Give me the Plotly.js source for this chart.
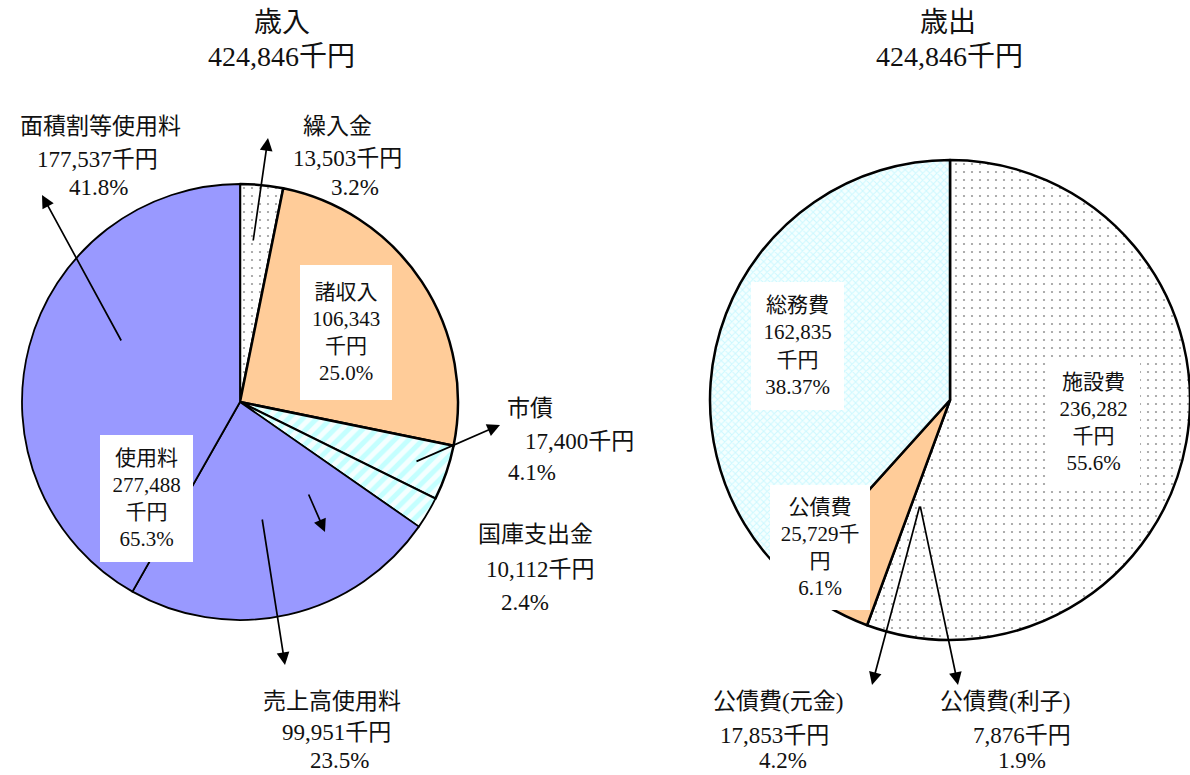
<!DOCTYPE html>
<html>
<head>
<meta charset="utf-8">
<script src="https://cdn.plot.ly/plotly-3.0.1.min.js"></script>
<style>html,body{margin:0;padding:0;background:#fff;}#chart{width:1190px;height:775px;}</style>
</head>
<body>
<div id="chart"></div>
<script>
// ---- data ----
const revLabels = ['繰入金', '諸収入', '市債', '国庫支出金', '売上高使用料', '面積割等使用料'];
const revValues = [13503, 106343, 17400, 10112, 99951, 177537];
const revPct = ['3.2', '25.0', '4.1', '2.4', '23.5', '41.8'];
const revTotal = 424846;
const usageLabel = '使用料';
const usageValue = 277488;
const usagePct = '65.3';

const expLabels = ['施設費', '公債費', '総務費'];
const expValues = [236282, 25729, 162835];
const expPct = ['55.6', '6.1', '38.37'];
const expTotal = 424846;
const debtLabels = ['公債費(元金)', '公債費(利子)'];
const debtValues = [17853, 7876];
const debtPct = ['4.2', '1.9'];

const unit = '千円';
const fmt = v => v.toLocaleString('en-US');

// ---- layout helpers (pixel -> paper) ----
const W = 1190, H = 775;
const px = x => x / W;
const py = y => 1 - y / H;
const FONT = 'Liberation Serif, Noto Sans CJK JP, serif';

const ann = [];
function line(text, x, y, size) {
  ann.push({text: text, x: px(x), y: py(y), xref: 'paper', yref: 'paper',
    xanchor: 'center', yanchor: 'middle', showarrow: false,
    font: {family: FONT, size: size || 23, color: '#111'}});
}
function lines(texts, pos, size) { texts.forEach((t, i) => line(t, pos[i][0], pos[i][1], size)); }
function box(text, cx, cy, w, h) {
  ann.push({text: text, x: px(cx), y: py(cy), xref: 'paper', yref: 'paper',
    xanchor: 'center', yanchor: 'middle', showarrow: false, bgcolor: '#ffffff',
    width: w, height: h, borderpad: 0, borderwidth: 0,
    font: {family: FONT, size: 21, color: '#111'}});
}
function arrow(tx, ty, hx, hy) {
  ann.push({text: '', x: px(hx), y: py(hy), xref: 'paper', yref: 'paper',
    ax: tx - hx, ay: ty - hy, axref: 'pixel', ayref: 'pixel',
    showarrow: true, arrowhead: 2, arrowsize: 1.5, arrowwidth: 1.7,
    arrowcolor: '#000', standoff: 0, startstandoff: 0});
}

// titles
lines(['歳入', fmt(revTotal) + unit], [[282, 22], [281, 57]], 28);
lines(['歳出', fmt(expTotal) + unit], [[948, 22], [949, 57]], 28);

// left outer labels
const lbl = i => [revLabels[i], fmt(revValues[i]) + unit, revPct[i] + '%'];
lines(lbl(5), [[100, 126], [97, 159], [98, 188]]);
lines(lbl(0), [[337, 126], [347, 158], [355, 188]]);
lines(lbl(2), [[530, 408], [579, 441], [532, 472]]);
lines(lbl(3), [[535, 534], [540, 569], [525, 602]]);
lines(lbl(4), [[332, 701], [336, 732], [339, 760]]);
// right outer labels
lines([debtLabels[0], fmt(debtValues[0]) + unit, debtPct[0] + '%'], [[778, 701], [774, 735], [783, 760]]);
lines([debtLabels[1], fmt(debtValues[1]) + unit, debtPct[1] + '%'], [[1005, 701], [1022, 735], [1022, 760]]);

// boxed labels
box([revLabels[1], fmt(revValues[1]), unit, revPct[1] + '%'].join('<br>'), 346, 332, 92, 135);
box([usageLabel, fmt(usageValue), unit, usagePct + '%'].join('<br>'), 146, 498, 93, 127);
box([expLabels[2], fmt(expValues[2]), unit, expPct[2] + '%'].join('<br>'), 798, 346, 93, 128);
box([expLabels[0], fmt(expValues[0]), unit, expPct[0] + '%'].join('<br>'), 1093, 422, 93, 125);
box([expLabels[1], fmt(expValues[1]) + unit.charAt(0), unit.charAt(1), expPct[1] + '%'].join('<br>'), 820, 547, 100, 125);

// arrows
arrow(253, 242, 268, 138);
arrow(122, 342, 42, 195);
arrow(415, 462, 500, 425);
arrow(308, 493, 325, 532);
arrow(262, 518, 285, 665);
arrow(920, 505, 872, 685);
arrow(920, 505, 958, 685);

const revTrace = {
  type: 'pie', labels: revLabels, values: revValues, sort: false, direction: 'clockwise', rotation: 0,
  textinfo: 'none', hoverinfo: 'skip', showlegend: false,
  domain: {x: [px(22), px(458)], y: [py(620), py(184)]},
  marker: {
    colors: ['#ffffff', '#ffcc99', '#ccffff', '#ccffff', '#9999ff', '#9999ff'],
    pattern: {
      shape: ['.', '', '/', '/', '', ''],
      fgcolor: ['#9a9a9a', '#ffcc99', '#c4ffff', '#c4ffff', '#9999ff', '#9999ff'],
      bgcolor: ['#ffffff', '#ffcc99', '#f4ffff', '#f4ffff', '#9999ff', '#9999ff'],
      size: [8, 8, 10, 10, 8, 8],
      solidity: [0.06, 0.3, 0.5, 0.5, 0.3, 0.3]
    },
    line: {color: '#000', width: [2.5, 2.5, 2.5, 1.8, 1.8, 1.8]}
  }
};
const expTrace = {
  type: 'pie', labels: expLabels, values: expValues, sort: false, direction: 'clockwise', rotation: 0,
  textinfo: 'none', hoverinfo: 'skip', showlegend: false,
  domain: {x: [px(710), px(1190)], y: [py(640), py(160)]},
  marker: {
    colors: ['#ffffff', '#ffcc99', '#e0ffff'],
    pattern: {
      shape: ['.', '', 'x'],
      fgcolor: ['#9a9a9a', '#ffcc99', '#ccf8ff'],
      bgcolor: ['#ffffff', '#ffcc99', '#f4ffff'],
      size: [8, 8, 5],
      solidity: [0.06, 0.3, 0.35]
    },
    line: {color: '#000', width: 2.5}
  }
};

Plotly.newPlot('chart', [revTrace, expTrace], {
  width: W, height: H, margin: {l: 0, r: 0, t: 0, b: 0},
  paper_bgcolor: '#fff', plot_bgcolor: '#fff',
  annotations: ann
}, {staticPlot: true, displayModeBar: false});
</script>
</body>
</html>
